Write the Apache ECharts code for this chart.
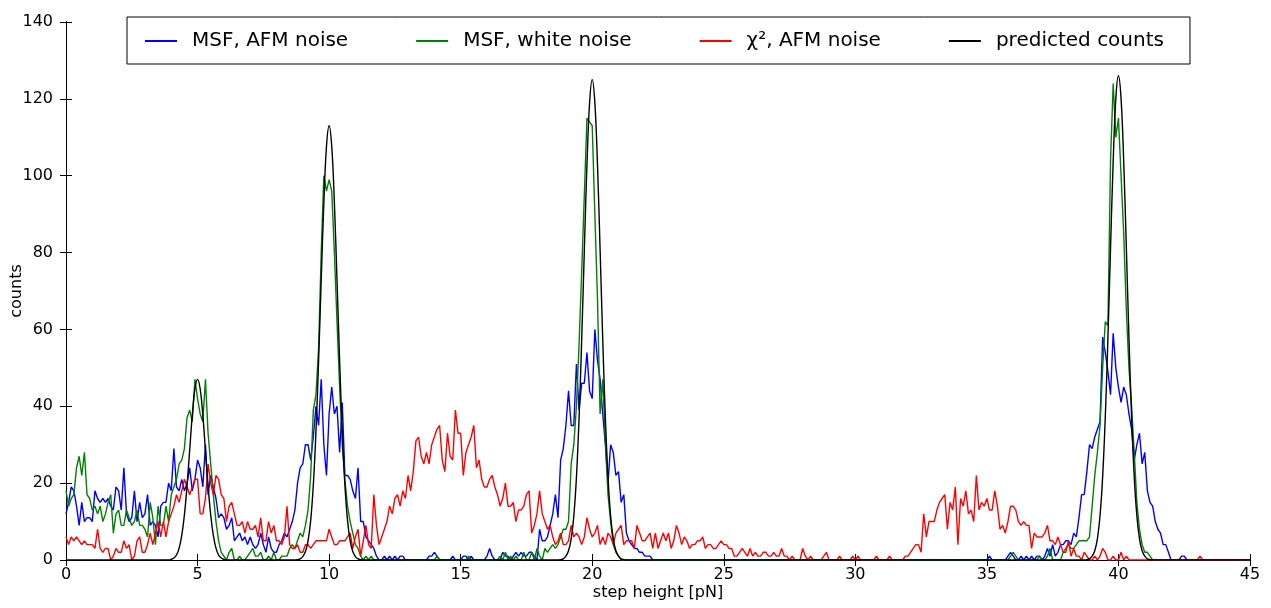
<!DOCTYPE html>
<html>
<head>
<meta charset="utf-8">
<script src="https://cdn.jsdelivr.net/npm/echarts@6/dist/echarts.min.js"></script>
<style>
html,body{margin:0;padding:0;background:#fff;}
#chart{width:1271px;height:608px;}
</style>
</head>
<body>
<div id="chart"></div>
<script>
// x grid: bins of 0.1 pN, one row of 10 bins per whole pN (row k covers k.0 ... k.9)
const xStart = 0;
const xStep = 0.1;

const seriesNames = ['MSF, AFM noise', 'MSF, white noise', 'χ², AFM noise', 'predicted counts'];
const xTicks = [0, 5, 10, 15, 20, 25, 30, 35, 40, 45];
const yTicks = [0, 20, 40, 60, 80, 100, 120, 140];
const xLabel = 'step height [pN]';
const yLabel = 'counts';

const Z = [0,0,0,0,0,0,0,0,0,0];

// MSF, AFM noise (blue)
const msfAfm = [
  [12,15,19,18,14,9,15,10,11,11],
  [10,18,16,15,16,15,16,14,13,19],
  [18,13,24,12,10,11,18,10,15,11],
  [12,17,9,10,9,6,14,15,15,20],
  [18,29,19,18,21,18,20,24,18,21],
  [26,24,19,30,17,22,19,16,11,12],
  [11,8,9,11,5,6,7,5,6,4],
  [6,4,3,4,7,4,2,6,3,2],
  [2,4,5,7,6,8,10,13,20,24],
  [25,30,30,26,32,40,35,47,30,22],
  [38,45,38,40,28,41,22,22,21,18],
  [16,24,10,10,6,5,4,3,1,0],
  [0,1,0,1,0,1,0,1,1,0],
  [0,0,0,0,0,0,0,0,1,1],
  [2,1,0,0,0,0,0,1,0,0],
  [0,1,1,0,1,0,0,0,0,0],
  [1,3,1,0,0,0,2,1,1,0],
  [1,2,1,2,1,1,2,2,1,0],
  [8,5,5,6,9,12,17,11,26,29],
  [35,44,35,35,51,39,46,46,54,44],
  [42,60,52,47,38,30,20,30,28,22],
  [23,15,17,7,5,4,3,3,2,2],
  [1,1,1,0,0,0,0,0,0,0],
  Z,Z,Z,Z,Z,Z,Z,Z,Z,Z,Z,Z,
  [0,1,0,0,0,0,0,0,1,2],
  [1,0,0,1,0,1,0,1,0,1],
  [1,0,1,3,1,4,1,2,4,4],
  [5,5,4,7,6,11,17,17,23,30],
  [29,32,34,36,58,54,49,43,59,50],
  [45,41,45,43,38,34,26,30,33,25],
  [28,18,15,14,10,8,7,4,4,2],
  [0,0,0,0,1,1,0,0,0,0],
  Z,Z,
  [0]
];

// MSF, white noise (green)
const msfWhite = [
  [18,14,16,17,24,27,22,28,17,16],
  [13,14,12,14,10,12,15,17,7,12],
  [13,9,9,13,11,9,10,13,9,9],
  [8,6,15,11,4,14,9,9,14,10],
  [17,19,21,25,26,29,37,39,36,47],
  [42,38,36,47,33,25,17,10,5,2],
  [1,0,2,3,0,0,1,0,0,1],
  [2,3,1,1,2,0,0,1,0,2],
  [0,0,1,1,1,3,4,3,5,7],
  [6,9,13,22,39,43,55,80,100,96],
  [99,96,80,62,45,30,21,14,10,7],
  [4,3,1,0,1,0,1,0,0,0],
  Z,Z,
  [0,1,0,0,0,0,0,0,0,0],
  [0,0,0,1,0,0,0,0,0,0],
  [0,0,0,0,0,1,0,2,0,1],
  [0,1,0,0,2,0,0,2,0,3],
  [1,0,3,2,3,4,3,4,6,8],
  [8,10,25,30,40,56,75,95,115,114],
  [113,90,68,38,47,31,17,10,4,2],
  [1,0,0,0,0,0,0,0,0,0],
  Z,Z,Z,Z,Z,Z,Z,Z,Z,Z,Z,Z,Z,
  [0,0,0,0,0,0,0,0,0,1],
  [2,1,0,0,0,0,0,0,0,0],
  [1,0,0,1,3,0,0,0,0,2],
  [3,4,3,3,4,5,5,5,5,6],
  [14,22,28,35,50,62,61,104,124,110],
  [115,100,85,65,50,40,28,15,8,4],
  [2,2,1,0,0,0,0,0,0,0],
  Z,Z,Z,
  [0]
];

// chi^2, AFM noise (red)
const chi2Afm = [
  [6,4,6,5,6,5,4,5,4,4],
  [4,3,8,3,2,3,3,0,1,3],
  [2,2,5,3,4,0,1,5,6,2],
  [2,4,7,4,7,10,6,10,6,10],
  [12,14,17,15,18,21,19,17,19,21],
  [21,12,12,16,25,20,17,22,21,17],
  [16,10,14,15,12,9,9,10,7,10],
  [8,8,9,6,11,5,5,10,7,9],
  [5,5,4,6,14,4,3,3,4,2],
  [2,4,4,3,4,5,5,5,5,5],
  [8,6,4,4,5,5,5,6,7,3],
  [6,8,1,5,9,4,3,17,9,4],
  [6,8,10,14,12,16,17,14,18,16],
  [22,18,23,31,32,27,25,28,25,30],
  [32,34,35,26,23,33,27,26,39,33],
  [33,22,28,30,32,35,24,26,21,19],
  [19,21,22,19,17,14,16,20,14,14],
  [15,10,13,13,14,17,18,7,9,12],
  [18,12,10,8,9,6,4,5,7,4],
  [4,5,9,6,7,6,4,6,11,8],
  [6,7,9,4,6,4,7,6,4,7],
  [8,9,4,5,5,5,3,9,7,5],
  [5,6,7,3,7,3,5,7,5,7],
  [3,5,9,7,4,6,5,3,4,4],
  [5,5,6,3,4,4,3,3,4,5],
  [4,4,3,3,1,1,2,3,2,1],
  [3,1,2,1,1,2,2,1,1,2],
  [1,1,3,1,1,0,1,0,0,0],
  [3,1,0,1,0,0,0,0,1,2],
  [0,0,0,0,1,0,0,0,0,1],
  [0,1,0,0,0,0,0,0,1,0],
  [0,0,0,1,0,0,0,0,0,1],
  [1,2,3,4,4,2,12,6,10,10],
  [10,13,15,16,17,8,15,13,19,4],
  [16,14,18,12,13,10,22,13,15,14],
  [16,13,13,18,14,8,9,7,10,14],
  [14,13,10,9,10,9,9,3,7,6],
  [6,6,7,9,5,5,4,6,4,2],
  [2,5,1,3,1,1,0,2,1,0],
  [0,1,0,1,3,2,0,0,1,0],
  [0,2,0,1,0,0,0,0,0,0],
  Z,Z,
  [0,1,0,0,0,0,0,0,0,0],
  Z,
  [0]
];

// predicted counts (black)
const predicted = [
  Z,Z,Z,Z,
  [0.2,0.5,1.3,3.1,6.4,11.7,19.3,28.5,37.7,44.5],
  [47,44.5,37.7,28.5,19.3,11.7,6.4,3.1,1.3,0.5],
  [0.2,0,0,0,0,0,0,0,0,0],
  Z,
  [0,0,0,0,0,0,0,0,0.1,0.3],
  [0.9,2.2,5.0,10.3,19.5,33.3,51.8,72.9,93,107.6],
  [113,107.6,93,72.9,51.8,33.3,19.5,10.3,5.0,2.2],
  [0.9,0.3,0.1,0,0,0,0,0,0,0],
  Z,Z,Z,Z,Z,Z,
  [0,0,0,0,0,0,0,0,0.1,0.3],
  [1.0,2.4,5.5,11.4,21.5,36.9,57.3,80.6,102.9,119],
  [125,119,102.9,80.6,57.3,36.9,21.5,11.4,5.5,2.4],
  [1.0,0.3,0.1,0,0,0,0,0,0,0],
  Z,Z,Z,Z,Z,Z,Z,Z,Z,Z,Z,Z,Z,Z,Z,Z,
  [0,0,0,0,0,0,0,0,0.1,0.3],
  [1.0,2.4,5.5,11.5,21.7,37.2,57.7,81.3,103.7,120],
  [126,120,103.7,81.3,57.7,37.2,21.7,11.5,5.5,2.4],
  [1.0,0.3,0.1,0,0,0,0,0,0,0],
  Z,Z,Z,
  [0]
];

const colors = ['#0000ff', '#008000', '#ff0000', '#000000'];
const FONT = 'DejaVu Sans';

function toPairs(rows) {
  const out = [];
  rows.forEach((row, k) => {
    row.forEach((v, j) => {
      out.push([+(xStart + k + j * xStep).toFixed(1), v]);
    });
  });
  return out;
}

const allRows = [msfAfm, msfWhite, chi2Afm, predicted];

const chart = echarts.init(document.getElementById('chart'), null, {renderer: 'canvas'});

const axisCommon = {
  axisLine: {show: true, lineStyle: {color: '#000', width: 1}},
  axisTick: {show: true, inside: true, length: 6, lineStyle: {color: '#000', width: 1}},
  splitLine: {show: false},
  minorTick: {show: false}
};

chart.setOption({
  animation: false,
  backgroundColor: '#fff',
  textStyle: {fontFamily: FONT},
  grid: {left: 66, right: 21, top: 22, bottom: 48, containLabel: false, outerBoundsMode: 'none'},
  legend: {
    data: seriesNames,
    left: 127,
    top: 17,
    orient: 'horizontal',
    icon: 'rect',
    itemWidth: 32,
    itemHeight: 2,
    itemGap: 68,
    padding: [13, 26, 12, 18],
    borderColor: '#000',
    borderWidth: 1,
    borderRadius: 0,
    backgroundColor: '#fff',
    selectedMode: false,
    textStyle: {fontFamily: FONT, fontSize: 20, color: '#000', padding: [0, 0, 0, 10], lineHeight: 22}
  },
  xAxis: [
    Object.assign({
      type: 'value', min: 0, max: 45, interval: 5, position: 'bottom',
      name: xLabel, nameLocation: 'middle', nameGap: 25, nameMoveOverlap: false,
      nameTextStyle: {fontFamily: FONT, fontSize: 16, color: '#000'},
      axisLabel: {color: '#000', fontFamily: FONT, fontSize: 16, margin: 7,
        formatter: v => (xTicks.indexOf(v) >= 0 ? String(v) : '')}
    }, axisCommon),
    Object.assign({
      type: 'value', min: 0, max: 45, interval: 5, position: 'top',
      axisLabel: {show: false}
    }, axisCommon)
  ],
  yAxis: [
    Object.assign({
      type: 'value', min: 0, max: 140, interval: 20, position: 'left',
      name: yLabel, nameLocation: 'middle', nameGap: 41, nameMoveOverlap: false,
      nameTextStyle: {fontFamily: FONT, fontSize: 16, color: '#000'},
      axisLabel: {color: '#000', fontFamily: FONT, fontSize: 16, margin: 13,
        formatter: v => (yTicks.indexOf(v) >= 0 ? String(v) : '')}
    }, axisCommon),
    Object.assign({
      type: 'value', min: 0, max: 140, interval: 20, position: 'right',
      axisLabel: {show: false}
    }, axisCommon)
  ],
  series: seriesNames.map((name, i) => ({
    name: name,
    type: 'line',
    xAxisIndex: 0,
    yAxisIndex: 0,
    data: toPairs(allRows[i]),
    showSymbol: false,
    symbol: 'none',
    smooth: i === 3 ? 0.4 : false,
    color: colors[i],
    lineStyle: {color: colors[i], width: 1.4},
    z: 2 + i
  }))
});
</script>
</body>
</html>
